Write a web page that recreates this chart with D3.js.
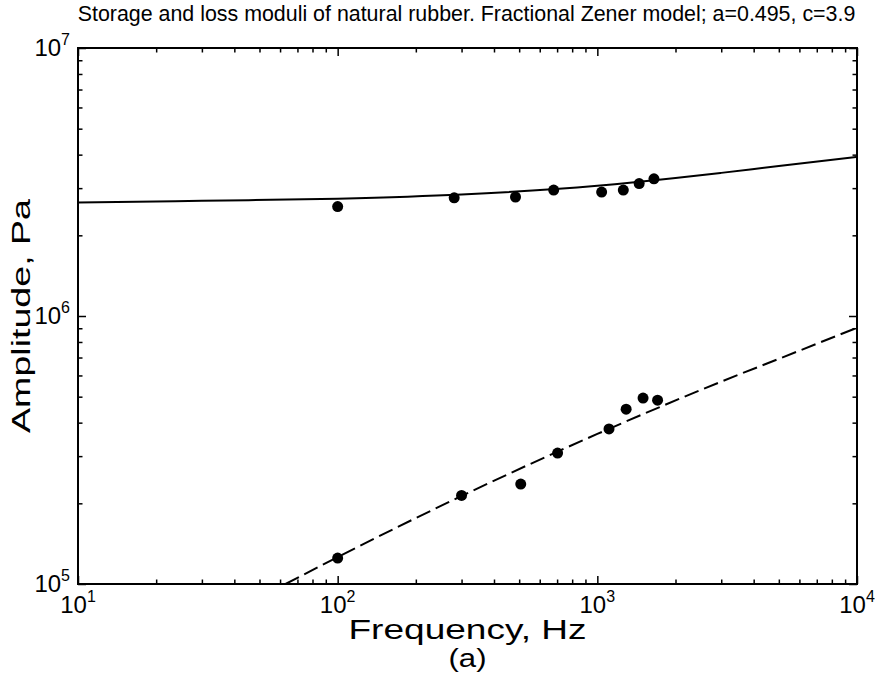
<!DOCTYPE html>
<html>
<head>
<meta charset="utf-8">
<script src="https://cdn.jsdelivr.net/npm/d3@7"></script>
<style>
  body { margin: 0; background: #fff; }
  text { font-family: "Liberation Sans", Arial, Helvetica, sans-serif; fill: #000; }
</style>
</head>
<body>
<script>
// measured points
const freqStorage = [100, 281, 484, 679, 1039, 1259, 1449, 1652];
const storage = [2.56e6, 2.76e6, 2.78e6, 2.95e6, 2.90e6, 2.95e6, 3.12e6, 3.25e6];
const freqLoss = [100, 300, 507, 703, 1109, 1291, 1500, 1706];
const loss = [1.25e5, 2.14e5, 2.36e5, 3.08e5, 3.79e5, 4.49e5, 4.94e5, 4.85e5];

// model curves
const storageFitFreq = [10, 30, 100, 300, 1000, 2000, 3000, 5000, 10000];
const storageFit = [2.65e6, 2.69e6, 2.74e6, 2.84e6, 3.06e6, 3.27e6, 3.42e6, 3.63e6, 3.92e6];
const lossFitFreq = [63, 100, 300, 1000, 3000, 5000, 10000];
const lossFit = [1.0e5, 1.26e5, 2.13e5, 3.63e5, 5.69e5, 6.92e5, 9.04e5];

const xDecades = [1, 2, 3, 4];
const yDecades = [5, 6, 7];

const margin = { top: 48, right: 18, bottom: 95, left: 78 },
      width = 875 - margin.left - margin.right,
      height = 679 - margin.top - margin.bottom;

const svg = d3.select("body").append("svg")
    .attr("width", 875)
    .attr("height", 679)
  .append("g")
    .attr("transform", `translate(${margin.left},${margin.top})`);

const x = d3.scaleLog().domain([10, 1e4]).range([0, width]);
const y = d3.scaleLog().domain([1e5, 1e7]).range([height, 0]);

const majorX = xDecades.map(e => Math.pow(10, e));
const majorY = yDecades.map(e => Math.pow(10, e));
const minors = (lo, hi) => {
  const out = [];
  for (let e = lo; e < hi; e++)
    for (let k = 2; k <= 9; k++) out.push(k * Math.pow(10, e));
  return out;
};
const minorX = minors(1, 4);
const minorY = minors(5, 7);

// inward ticks on all four sides
const axes = [
  [() => d3.axisBottom(x), `translate(0,${height})`, majorX, minorX],
  [() => d3.axisTop(x), null, majorX, minorX],
  [() => d3.axisLeft(y), null, majorY, minorY],
  [() => d3.axisRight(y), `translate(${width},0)`, majorY, minorY]
];
axes.forEach(([mk, tr, maj, min]) => {
  [[maj, 8], [min, 4.5]].forEach(([vals, len]) => {
    const g = svg.append("g")
        .call(mk().tickValues(vals).tickSize(-len).tickFormat(""));
    if (tr) g.attr("transform", tr);
    g.select(".domain").remove();
    g.selectAll("line").attr("stroke", "#000").attr("stroke-width", 1.5);
  });
});

svg.append("rect")
    .attr("width", width)
    .attr("height", height)
    .attr("fill", "none")
    .attr("stroke", "#000")
    .attr("stroke-width", 2);

// tick labels with superscripts
const xl = svg.selectAll(".xlab")
    .data(xDecades)
    .enter().append("text")
    .attr("x", d => x(Math.pow(10, d)))
    .attr("y", height + 29)
    .attr("text-anchor", "middle")
    .style("font-size", "24px");
xl.append("tspan").text("10");
xl.append("tspan").attr("dy", -11).style("font-size", "16px").text(d => d);

const yl = svg.selectAll(".ylab")
    .data(yDecades)
    .enter().append("text")
    .attr("x", -8)
    .attr("y", d => y(Math.pow(10, d)) + 8)
    .attr("text-anchor", "end")
    .style("font-size", "24px");
yl.append("tspan").text("10");
yl.append("tspan").attr("dy", -11).style("font-size", "16px").text(d => d);

svg.append("clipPath").attr("id", "plotclip")
  .append("rect").attr("width", width).attr("height", height);

const line = d3.line()
    .x(d => x(d[0]))
    .y(d => y(d[1]))
    .curve(d3.curveMonotoneX);

svg.append("path")
    .datum(storageFitFreq.map((f, i) => [f, storageFit[i]]))
    .attr("d", line)
    .attr("fill", "none")
    .attr("stroke", "#000")
    .attr("stroke-width", 2);

svg.append("path")
    .datum(lossFitFreq.map((f, i) => [f, lossFit[i]]))
    .attr("d", line)
    .attr("clip-path", "url(#plotclip)")
    .attr("fill", "none")
    .attr("stroke", "#000")
    .attr("stroke-width", 2)
    .attr("stroke-dasharray", "15,6");

svg.selectAll(".pS")
    .data(freqStorage.map((f, i) => [f, storage[i]]))
    .enter().append("circle")
    .attr("cx", d => x(d[0]))
    .attr("cy", d => y(d[1]))
    .attr("r", 5.5)
    .attr("fill", "#000");

svg.selectAll(".pL")
    .data(freqLoss.map((f, i) => [f, loss[i]]))
    .enter().append("circle")
    .attr("cx", d => x(d[0]))
    .attr("cy", d => y(d[1]))
    .attr("r", 5.5)
    .attr("fill", "#000");

svg.append("text")
    .attr("x", width / 2 - 1)
    .attr("y", -27)
    .attr("text-anchor", "middle")
    .style("font-size", "21.4px")
    .text("Storage and loss moduli of natural rubber. Fractional Zener model; a=0.495, c=3.9");

svg.append("text")
    .attr("x", width / 2)
    .attr("y", height + 55)
    .attr("text-anchor", "middle")
    .attr("textLength", 238)
    .attr("lengthAdjust", "spacingAndGlyphs")
    .style("font-size", "27px")
    .text("Frequency, Hz");

svg.append("text")
    .attr("x", width / 2)
    .attr("y", height + 83)
    .attr("text-anchor", "middle")
    .attr("textLength", 38)
    .attr("lengthAdjust", "spacingAndGlyphs")
    .style("font-size", "25px")
    .text("(a)");

svg.append("text")
    .attr("x", -height / 2)
    .attr("y", -48)
    .attr("text-anchor", "middle")
    .attr("transform", "rotate(-90)")
    .attr("textLength", 234)
    .attr("lengthAdjust", "spacingAndGlyphs")
    .style("font-size", "25px")
    .text("Amplitude, Pa");
</script>
</body>
</html>
